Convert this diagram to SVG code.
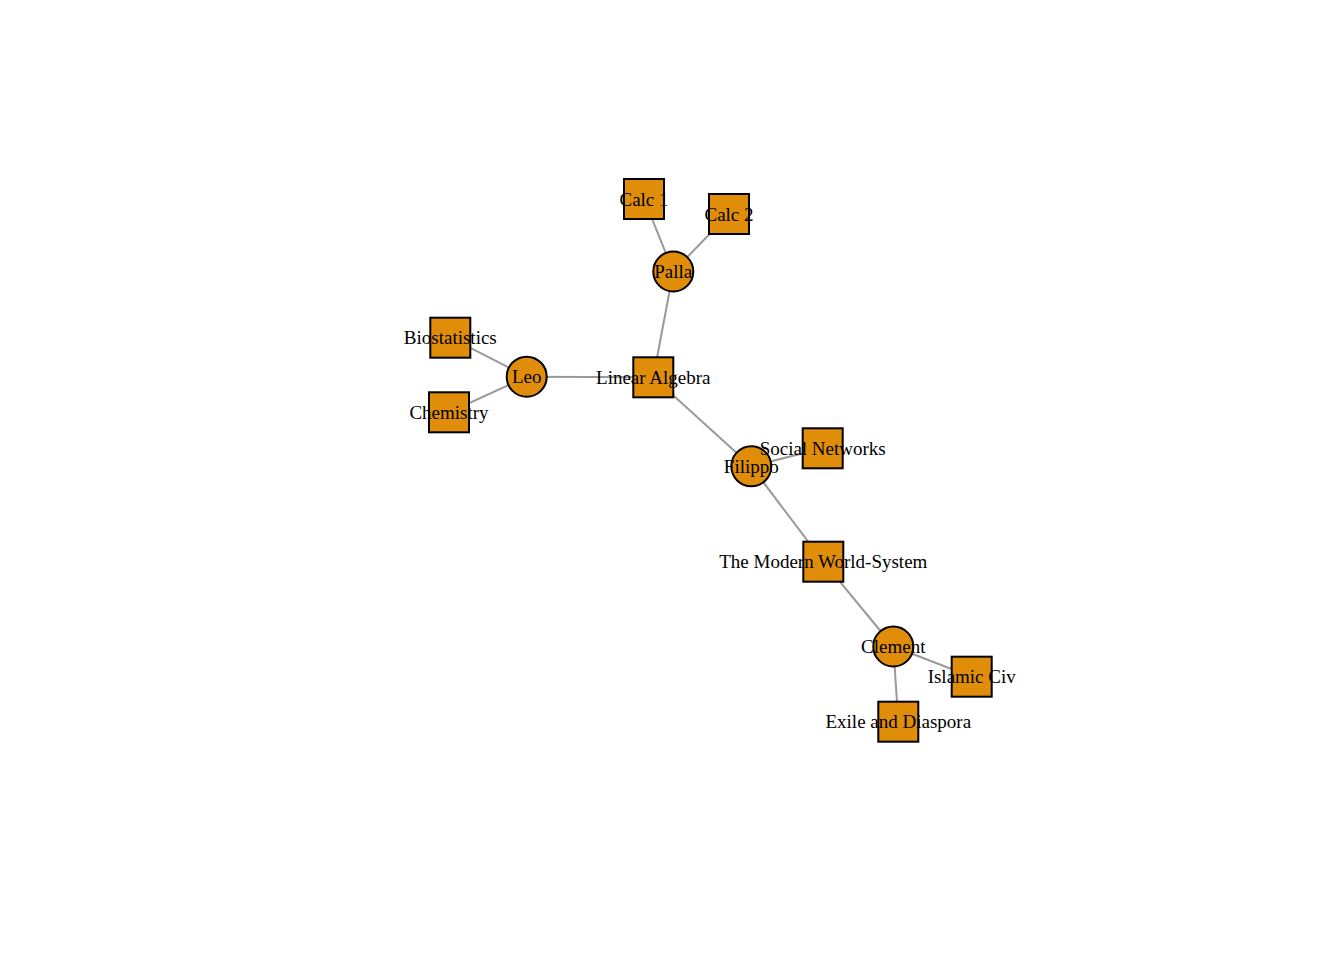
<svg xmlns="http://www.w3.org/2000/svg" width="1344" height="960" viewBox="0 0 1344 960">
<style>
.e{stroke:#999999;stroke-width:2;fill:none}
.n{fill:#E08E0A;stroke:#000;stroke-width:2}
.t{font-family:"Liberation Serif","Times New Roman",serif;font-size:19px;fill:#000;text-anchor:middle}
</style>
<rect width="1344" height="960" fill="#fff"/>
<g id="edges">
<line class="e" x1="644" y1="199" x2="673.3" y2="271.5"/>
<line class="e" x1="729" y1="214" x2="673.3" y2="271.5"/>
<line class="e" x1="673.3" y1="271.5" x2="653.3" y2="377.3"/>
<line class="e" x1="526.7" y1="376.7" x2="450.3" y2="337.7"/>
<line class="e" x1="526.7" y1="376.7" x2="449" y2="412.3"/>
<line class="e" x1="526.7" y1="376.7" x2="653.3" y2="377.3"/>
<line class="e" x1="653.3" y1="377.3" x2="751.3" y2="466.3"/>
<line class="e" x1="751.3" y1="466.3" x2="822.7" y2="448.3"/>
<line class="e" x1="751.3" y1="466.3" x2="823.3" y2="561.7"/>
<line class="e" x1="823.3" y1="561.7" x2="893.3" y2="646.5"/>
<line class="e" x1="893.3" y1="646.5" x2="971.7" y2="676.7"/>
<line class="e" x1="893.3" y1="646.5" x2="898.3" y2="721.7"/>
</g>
<g id="n-calc1"><rect class="n" x="624" y="179" width="40" height="40"/></g>
<g id="n-calc2"><rect class="n" x="709" y="194" width="40" height="40"/></g>
<g id="n-palla"><circle class="n" cx="673.3" cy="271.5" r="20"/></g>
<g id="n-linalg"><rect class="n" x="633.3" y="357.3" width="40" height="40"/></g>
<g id="n-leo"><circle class="n" cx="526.7" cy="376.7" r="20"/></g>
<g id="n-biostat"><rect class="n" x="430.3" y="317.7" width="40" height="40"/></g>
<g id="n-chem"><rect class="n" x="429" y="392.3" width="40" height="40"/></g>
<g id="n-filippo"><circle class="n" cx="751.3" cy="466.3" r="20"/></g>
<g id="n-socnet"><rect class="n" x="802.7" y="428.3" width="40" height="40"/></g>
<g id="n-modern"><rect class="n" x="803.3" y="541.7" width="40" height="40"/></g>
<g id="n-clement"><circle class="n" cx="893.3" cy="646.5" r="20"/></g>
<g id="n-islamic"><rect class="n" x="951.7" y="656.7" width="40" height="40"/></g>
<g id="n-exile"><rect class="n" x="878.3" y="701.7" width="40" height="40"/></g>
<g id="labels">
<text class="t" x="644" y="205.5">Calc 1</text>
<text class="t" x="729" y="220.5">Calc 2</text>
<text class="t" x="673.3" y="278">Palla</text>
<text class="t" x="653.3" y="383.8">Linear Algebra</text>
<text class="t" x="526.7" y="383.2">Leo</text>
<text class="t" x="450.3" y="344.2">Biostatistics</text>
<text class="t" x="449" y="418.8">Chemistry</text>
<text class="t" x="751.3" y="472.8">Filippo</text>
<text class="t" x="822.7" y="454.8">Social Networks</text>
<text class="t" x="823.3" y="568.2">The Modern World-System</text>
<text class="t" x="893.3" y="653">Clement</text>
<text class="t" x="971.7" y="683.2">Islamic Civ</text>
<text class="t" x="898.3" y="728.2">Exile and Diaspora</text>
</g>
</svg>
